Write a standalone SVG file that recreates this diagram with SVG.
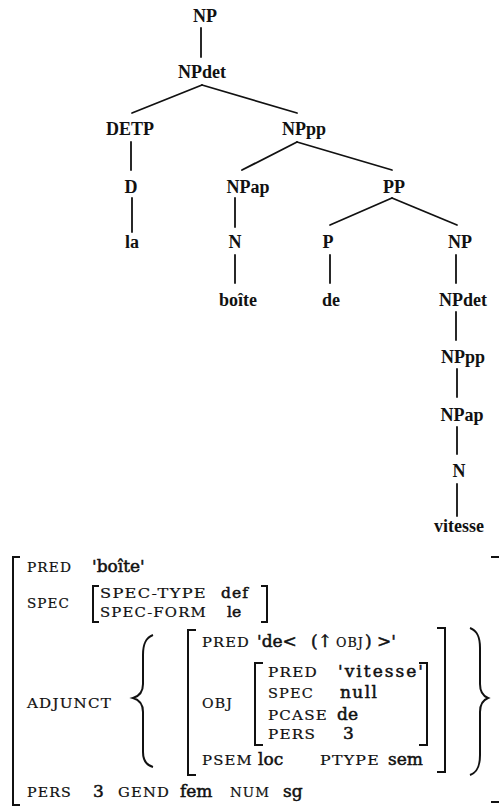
<svg xmlns="http://www.w3.org/2000/svg" width="502" height="808" viewBox="0 0 502 808">
<style>
.t{font-family:"Liberation Serif","Times New Roman",serif;font-weight:bold;font-size:18px;text-anchor:middle;fill:#111}
.e{stroke:#111;stroke-width:1.8;fill:none;stroke-linecap:round}
.k{font-family:"DejaVu Serif",serif;font-size:12.5px;letter-spacing:1px;fill:#111;stroke:#111;stroke-width:0.2}
.v{font-family:"DejaVu Serif",serif;font-size:17px;fill:#111;stroke:#111;stroke-width:0.5}
.s{font-size:15.5px}
.b{stroke:#111;stroke-width:2;fill:none}
</style>
<rect width="502" height="808" fill="#fff"/>
<g id="connectors">
<line class="e" x1="201" y1="28" x2="201" y2="57"/>
<line class="e" x1="202" y1="85" x2="132" y2="113"/>
<line class="e" x1="202" y1="85" x2="297" y2="113"/>
<line class="e" x1="131" y1="142" x2="131" y2="170"/>
<line class="e" x1="132" y1="198" x2="132" y2="232"/>
<line class="e" x1="297" y1="142" x2="242" y2="170"/>
<line class="e" x1="297" y1="142" x2="392" y2="170"/>
<line class="e" x1="235" y1="198" x2="235" y2="227"/>
<line class="e" x1="235" y1="255" x2="235" y2="283"/>
<line class="e" x1="392" y1="198" x2="330" y2="225"/>
<line class="e" x1="392" y1="198" x2="457" y2="225"/>
<line class="e" x1="330" y1="255" x2="330" y2="283"/>
<line class="e" x1="456" y1="255" x2="456" y2="283"/>
<line class="e" x1="456" y1="312" x2="456" y2="340"/>
<line class="e" x1="457" y1="369" x2="457" y2="397"/>
<line class="e" x1="457" y1="427" x2="457" y2="454"/>
<line class="e" x1="457" y1="484" x2="457" y2="516"/>
</g>
<g id="n-np"><text class="t" x="205" y="22">NP</text></g>
<g id="n-npdet"><text class="t" x="202" y="78">NPdet</text></g>
<g id="n-detp"><text class="t" x="130" y="135">DETP</text></g>
<g id="n-nppp"><text class="t" x="304" y="135">NPpp</text></g>
<g id="n-d"><text class="t" x="131" y="193">D</text></g>
<g id="n-la"><text class="t" x="132" y="248">la</text></g>
<g id="n-npap"><text class="t" x="248" y="193">NPap</text></g>
<g id="n-n1"><text class="t" x="235" y="248">N</text></g>
<g id="n-boite"><text class="t" x="238" y="306">boîte</text></g>
<g id="n-pp"><text class="t" x="394" y="193">PP</text></g>
<g id="n-p"><text class="t" x="328" y="248">P</text></g>
<g id="n-de"><text class="t" x="331" y="306">de</text></g>
<g id="n-np2"><text class="t" x="460" y="248">NP</text></g>
<g id="n-npdet2"><text class="t" x="463" y="306">NPdet</text></g>
<g id="n-nppp2"><text class="t" x="463" y="363">NPpp</text></g>
<g id="n-npap2"><text class="t" x="462" y="421">NPap</text></g>
<g id="n-n2"><text class="t" x="459" y="477">N</text></g>
<g id="n-vitesse"><text class="t" x="459" y="532">vitesse</text></g>
<g id="fstructure">
<path class="b" d="M20,557 H13 V805 H20"/>
<path class="b" d="M491,557 H499"/>
<path class="b" d="M491,802 H499"/>
<path class="b" d="M99,586 H93 V622 H99"/>
<path class="b" d="M261,586 H267 V622 H261"/>
<path class="b" d="M153,635 C145,638 143,645 143,655 V684 C143,692 140,696 133,698 C140,700 143,704 143,712 V752 C143,760 146,765 153,767"/>
<path class="b" d="M196,630 H188 V775 H196"/>
<path class="b" d="M437,628 H445 V772 H437"/>
<path class="b" d="M263,663 H255 V745 H263"/>
<path class="b" d="M419,663 H427 V745 H419"/>
<path class="b" d="M470,628 C478,631 480,638 480,648 V684 C480,692 483,696 488,698 C483,700 480,704 480,712 V755 C480,765 478,772 470,775"/>
<text class="k" x="27" y="572" textLength="45" lengthAdjust="spacingAndGlyphs">PRED</text>
<text class="v" x="92" y="572">'boîte'</text>
<text class="k" x="27" y="608" textLength="43" lengthAdjust="spacingAndGlyphs">SPEC</text>
<text class="k" x="100" y="598" textLength="107" lengthAdjust="spacingAndGlyphs">SPEC-TYPE</text>
<text class="v s" x="221" y="598" textLength="27">def</text>
<text class="k" x="100" y="617" textLength="107" lengthAdjust="spacingAndGlyphs">SPEC-FORM</text>
<text class="v s" x="227" y="617">le</text>
<text class="k" x="27" y="708" textLength="85" lengthAdjust="spacingAndGlyphs">ADJUNCT</text>
<text class="k" x="202" y="647" textLength="48" lengthAdjust="spacingAndGlyphs">PRED</text>
<text class="v" y="647"><tspan x="257">'de&lt;</tspan><tspan x="311">(↑</tspan><tspan x="336" class="k" textLength="28" lengthAdjust="spacingAndGlyphs">OBJ</tspan><tspan x="365">) &gt;'</tspan></text>
<text class="k" x="202" y="708" textLength="31" lengthAdjust="spacingAndGlyphs">OBJ</text>
<text class="k" x="268" y="677" textLength="50" lengthAdjust="spacingAndGlyphs">PRED</text>
<text class="v" x="338" y="677" textLength="85">'vitesse'</text>
<text class="k" x="268" y="698" textLength="46" lengthAdjust="spacingAndGlyphs">SPEC</text>
<text class="v" x="340" y="698" textLength="37">null</text>
<text class="k" x="268" y="720" textLength="60" lengthAdjust="spacingAndGlyphs">PCASE</text>
<text class="v" x="337" y="720">de</text>
<text class="k" x="268" y="739" textLength="48" lengthAdjust="spacingAndGlyphs">PERS</text>
<text class="v" x="343" y="739">3</text>
<text class="k" x="202" y="765" textLength="51" lengthAdjust="spacingAndGlyphs">PSEM</text>
<text class="v" x="258" y="765">loc</text>
<text class="k" x="320" y="765" textLength="60" lengthAdjust="spacingAndGlyphs">PTYPE</text>
<text class="v" x="388" y="765">sem</text>
<text class="k" x="27" y="797" textLength="45" lengthAdjust="spacingAndGlyphs">PERS</text>
<text class="v" x="93" y="797">3</text>
<text class="k" x="118" y="797" textLength="52" lengthAdjust="spacingAndGlyphs">GEND</text>
<text class="v" x="180" y="797">fem</text>
<text class="k" x="230" y="797" textLength="40" lengthAdjust="spacingAndGlyphs">NUM</text>
<text class="v" x="283" y="797">sg</text>
</g>
</svg>
